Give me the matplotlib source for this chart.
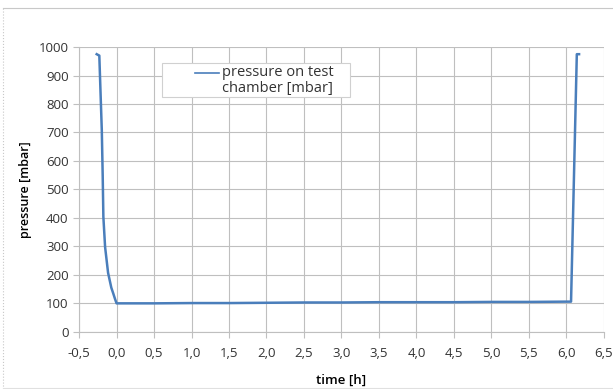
import numpy as np
import matplotlib.pyplot as plt
from matplotlib.patches import Rectangle
from matplotlib.lines import Line2D

# time [h] and pressure [mbar]
time_h = [-0.265, -0.23, -0.215, -0.197, -0.185, -0.176, -0.153, -0.113, -0.07,
          -0.047, -0.02, 0.0, 0.5, 1.0, 1.5, 2.0, 2.5, 3.0, 3.5, 4.0, 4.5, 5.0,
          5.5, 6.0, 6.063, 6.14, 6.17]
pressure = [975, 970, 850, 709, 550, 404, 298, 207, 155,
            137, 115, 100, 100, 101, 101, 102, 103, 103, 104, 104, 104, 105,
            105, 106, 106, 975, 975]

xticks = np.arange(-0.5, 6.51, 0.5)
xticklabels = ['%.1f' % v for v in xticks]
xticklabels = [s.replace('.', ',').replace('-0,0', '0,0') for s in xticklabels]
yticks = np.arange(0, 1001, 100)
series_name = 'pressure on test\nchamber [mbar]'

plt.rcParams['font.family'] = ['Open Sans', 'DejaVu Sans']
blue = '#4a7ebb'

fig = plt.figure(figsize=(6.13, 3.89), dpi=100)
ax = fig.add_axes([0.129, 0.147, 0.856, 0.732])

# faint chart-area border of the original screenshot
fig.add_artist(Line2D([0.005, 0.005], [0, 0.98], color='#c8c8c8', lw=0.8, ls=':'))
fig.add_artist(Line2D([0.005, 1], [0.979, 0.979], color='#c8c8c8', lw=0.8))
fig.add_artist(Line2D([0.005, 1], [0.002, 0.002], color='#e0e0e0', lw=0.8))

ax.plot(time_h, pressure, color=blue, lw=1.8)

ax.set_xlim(-0.5, 6.5)
ax.set_ylim(0, 1000)
ax.set_xticks(xticks)
ax.set_xticklabels(xticklabels)
ax.set_yticks(yticks)
ax.grid(True, color='#bfbfbf', lw=0.8)
ax.set_axisbelow(True)
for s in ax.spines.values():
    s.set_visible(False)
ax.spines['left'].set_visible(True)
ax.spines['bottom'].set_visible(True)
ax.spines['left'].set_color('#bfbfbf')
ax.spines['bottom'].set_color('#bfbfbf')
ax.tick_params(colors='#bfbfbf', labelcolor='#333333', labelsize=9.5, length=4)
ax.tick_params(axis='x', pad=7)

ax.set_xlabel('time [h]', fontsize=9.5, fontweight='semibold', labelpad=10)
ax.set_ylabel('pressure [mbar]', fontsize=9, fontweight='semibold', labelpad=5)

# legend box, drawn like the spreadsheet one
ax.add_patch(Rectangle((0.158, 0.825), 0.358, 0.119, transform=ax.transAxes,
                       facecolor='white', edgecolor='#d0d0d0', lw=0.8, zorder=5))
ax.plot([0.221, 0.267], [0.909, 0.909], transform=ax.transAxes, color=blue,
        lw=1.2, zorder=6, clip_on=False)
ax.text(0.272, 0.882, series_name, transform=ax.transAxes, fontsize=10.5,
        va='center', ha='left', color='#333333', linespacing=1.05, zorder=7)

fig.savefig('out.png', dpi=100)
